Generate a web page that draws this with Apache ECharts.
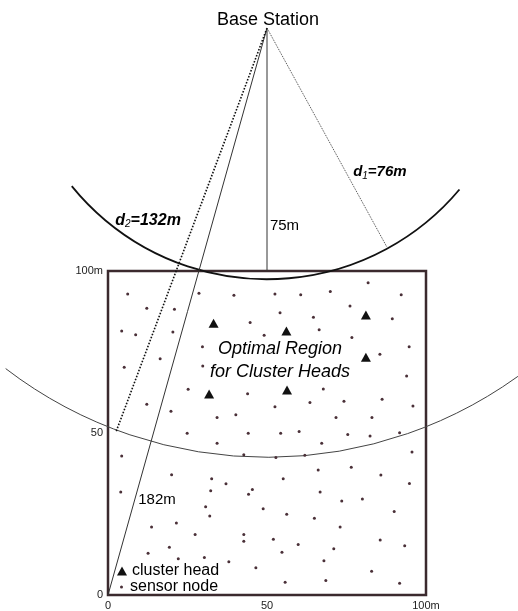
<!DOCTYPE html>
<html>
<head>
<meta charset="utf-8">
<script src="https://cdn.jsdelivr.net/npm/echarts@6/dist/echarts.min.js"></script>
<style>
html,body{margin:0;padding:0;background:#fff;}
#chart{width:518px;height:611px;}
</style>
</head>
<body>
<div id="chart"></div>
<script>
// ---- data (field coordinates in metres) ----
const axisTicks = [0, 50, 100];
const baseStation = [50, 175];
const sensorNodes = [
  [6.2,92.9],[12.2,88.5],[20.9,88.2],[28.6,93.1],[39.6,92.5],[52.5,92.9],[60.6,92.7],[69.9,93.7],[81.8,96.4],[92.2,92.7],
  [76.1,89.2],[54.1,87.1],[64.6,85.7],[89.4,85.3],[44.7,84.1],[4.3,81.5],[8.7,80.3],[20.4,81.2],[49.1,80.2],[66.4,81.9],
  [76.7,79.5],[29.7,76.6],[94.7,76.6],[85.5,74.3],[16.4,72.9],[5.1,70.3],[29.8,70.7],[93.9,67.6],[25.2,63.5],[43.9,62.1],
  [67.7,63.6],[12.2,58.9],[19.8,56.7],[52.5,58.1],[63.5,59.4],[74.2,59.8],[86.2,60.4],[95.9,58.3],[34.3,54.8],[40.2,55.6],
  [71.7,54.8],[83.0,54.8],[24.9,49.9],[44.1,49.9],[54.3,49.9],[60.1,50.5],[75.4,49.5],[82.4,49.1],[91.7,50.1],[34.3,46.8],
  [67.2,46.8],[4.3,42.9],[95.6,44.1],[42.7,43.3],[52.8,42.4],[61.9,43.1],
  [20.0,37.1],[32.6,35.9],[37.1,34.3],[55.1,35.9],[66.1,38.6],[76.5,39.4],[85.8,37.0],[94.8,34.4],[4.0,31.8],[32.3,32.2],
  [45.4,32.6],[44.2,31.1],[66.7,31.8],[73.5,29.0],[80.0,29.6],[30.7,27.2],[48.8,26.6],[90.0,25.8],[32.0,24.4],[56.2,24.9],
  [64.9,23.7],[13.7,21.0],[21.5,22.2],[73.0,21.0],[27.4,18.7],[42.7,18.7],[42.7,16.6],[52.0,17.2],[59.8,15.6],[85.6,17.0],
  [93.3,15.2],[19.3,14.7],[12.6,12.9],[54.7,13.2],[71.0,14.3],[22.1,11.2],[30.3,11.6],[38.0,10.3],[67.9,10.6],[46.5,8.4],
  [82.9,7.3],[55.7,3.9],[68.5,4.5],[91.7,3.6]
];
const clusterHeads = [[33.2,83.9],[56.1,81.5],[81.1,86.4],[81.1,73.4],[31.8,62.0],[56.3,63.3]];
// distance lines from the base station
const line75End = [50, 100];
const line182End = [0, 0];
const lineD2End = [2.5, 50.3];
const lineD1End = [87.7, 107.4];
// arcs around the base station: radius (m) and angular extent (deg, screen)
const innerArc = {r: 79, from: 40, to: 141};
const outerArc = {r: 135, from: 52, to: 127.5};
// text annotations
const annotTexts = ['Base Station', '75m', 'd2=132m', 'd1=76m', '182m', 'Optimal Region\nfor Cluster Heads'];
const annotPos = [[50.3, 177.5], [55.5, 113.9], [12.6, 115.7], [85.5, 130.6], [15.4, 29.3], [54.1, 72.5]];

// ---- chart ----
const FONT = '"Liberation Sans", Arial, Helvetica, sans-serif';
const chart = echarts.init(document.getElementById('chart'), null, {renderer: 'canvas'});

function tickFmt(v) { return v === 100 ? v + 'm' : String(v); }

const annotStyles = [
  {fontSize: 18, color: '#000'},
  {fontSize: 15, color: '#000'},
  {fontSize: 16, color: '#000', rich: true},
  {fontSize: 15, color: '#000', rich: true},
  {fontSize: 15, color: '#000'},
  {fontSize: 18, color: '#000', fontStyle: 'italic', lineHeight: 23}
];
function richDefs(size) {
  return {
    b: {fontSize: size, fontWeight: 'bold', fontStyle: 'italic', fontFamily: FONT, color: '#000', lineHeight: 18},
    s: {fontSize: 10, fontStyle: 'italic', fontFamily: FONT, color: '#000', lineHeight: 18, verticalAlign: 'bottom', padding: [6, 0, 0, 0]}
  };
}
function annotFormatter(t) {
  const m = t.match(/^d(\d)(=.*)$/);
  if (m) return '{b|d}{s|' + m[1] + '}{b|' + m[2] + '}';
  return t;
}
const annotData = annotTexts.map((t, i) => {
  const st = annotStyles[i];
  return {
    value: annotPos[i],
    name: t,
    label: {
      show: true,
      position: 'inside',
      formatter: annotFormatter(t),
      fontSize: st.fontSize,
      fontStyle: st.fontStyle || 'normal',
      lineHeight: st.lineHeight,
      color: st.color,
      fontFamily: FONT,
      align: 'center',
      verticalAlign: 'middle',
      rich: st.rich ? richDefs(st.fontSize) : undefined
    }
  };
});

function lineSeries(end, style) {
  return {
    type: 'line', data: [baseStation, end], symbol: 'none', clip: false,
    silent: true, lineStyle: style, z: 3, animation: false
  };
}
function arcSeries(arc, style) {
  return {
    type: 'custom', clip: false, silent: true, animation: false, z: 3,
    data: [baseStation],
    renderItem: function (params, api) {
      const c = api.coord([api.value(0), api.value(1)]);
      const rpx = api.size([arc.r, 0])[0];
      return {
        type: 'arc',
        shape: {cx: c[0], cy: c[1], r: rpx, startAngle: arc.from * Math.PI / 180, endAngle: arc.to * Math.PI / 180, clockwise: true},
        style: Object.assign({fill: null}, style)
      };
    }
  };
}

const option = {
  animation: false,
  backgroundColor: '#fff',
  grid: {left: 108, top: 271, width: 318, height: 324, show: true, borderColor: '#3b2a2e', borderWidth: 2.5, backgroundColor: 'transparent', containLabel: false},
  xAxis: {
    type: 'value', min: 0, max: 100, interval: 50,
    axisLine: {show: false}, axisTick: {show: false}, splitLine: {show: false},
    axisLabel: {formatter: tickFmt, fontSize: 11, color: '#222', fontFamily: FONT, margin: 5}
  },
  yAxis: {
    type: 'value', min: 0, max: 100, interval: 50,
    axisLine: {show: false}, axisTick: {show: false}, splitLine: {show: false},
    axisLabel: {formatter: tickFmt, fontSize: 11, color: '#222', fontFamily: FONT, margin: 5}
  },
  legend: [
    {data: ['cluster head'], orient: 'vertical', left: 117, top: 563, padding: 0, itemWidth: 10, itemHeight: 9, itemGap: 0, selectedMode: false,
     textStyle: {fontSize: 16, color: '#000', fontFamily: FONT, lineHeight: 16}},
    {data: ['sensor node'], orient: 'vertical', left: 120, top: 579, padding: 0, itemWidth: 7, itemHeight: 3, icon: 'circle', itemGap: 0, selectedMode: false,
     textStyle: {fontSize: 16, color: '#000', fontFamily: FONT, lineHeight: 16}}
  ],
  series: [
    lineSeries(line75End, {color: '#333', width: 1}),
    lineSeries(line182End, {color: '#333', width: 1}),
    lineSeries(lineD2End, {color: '#111', width: 1.6, type: 'dotted'}),
    lineSeries(lineD1End, {color: '#444', width: 1, type: 'dotted'}),
    arcSeries(innerArc, {stroke: '#111', lineWidth: 1.8}),
    arcSeries(outerArc, {stroke: '#444', lineWidth: 1}),
    {
      name: 'sensor node', type: 'scatter', data: sensorNodes, symbol: 'circle', symbolSize: 3,
      itemStyle: {color: '#4a3038', opacity: 1}, z: 4, animation: false
    },
    {
      name: 'cluster head', type: 'scatter', data: clusterHeads, symbol: 'triangle', symbolSize: [10, 9],
      itemStyle: {color: '#111', opacity: 1}, z: 5, animation: false
    },
    {
      type: 'scatter', data: annotData, symbolSize: 0, clip: false, silent: true, z: 6, animation: false,
      itemStyle: {color: 'transparent', opacity: 1}
    }
  ]
};
chart.setOption(option);
</script>
</body>
</html>
